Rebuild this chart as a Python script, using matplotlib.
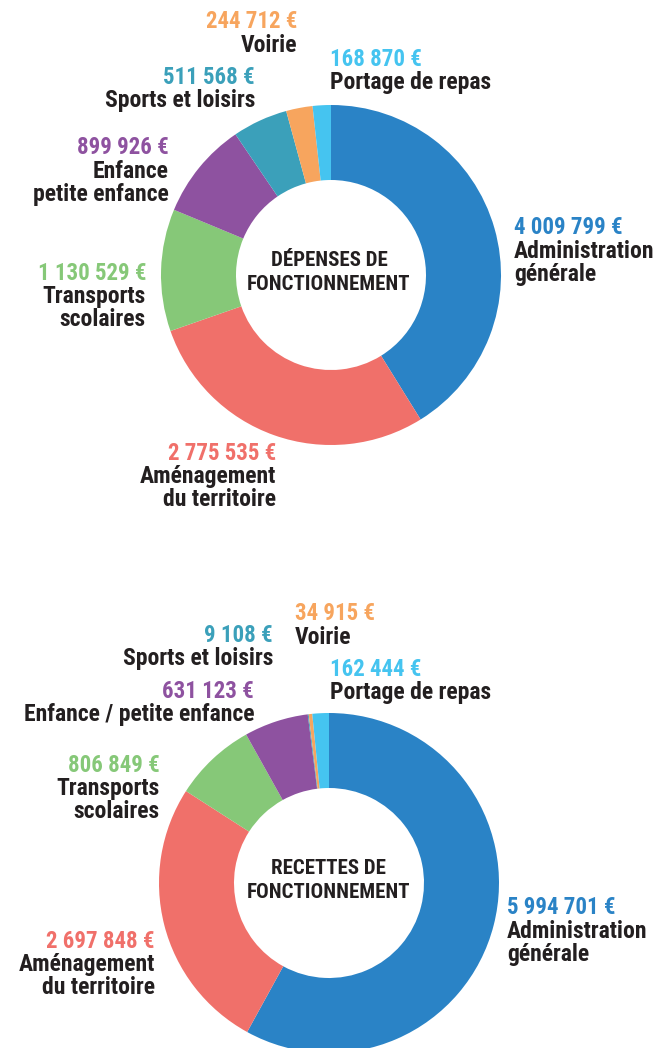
import matplotlib
matplotlib.use("Agg")
import matplotlib.pyplot as plt
from matplotlib import font_manager

categories = ["Administration générale", "Aménagement du territoire", "Transports scolaires",
              "Enfance / petite enfance", "Sports et loisirs", "Voirie", "Portage de repas"]
depenses = [4009799, 2775535, 1130529, 899926, 511568, 244712, 168870]
recettes = [5994701, 2697848, 806849, 631123, 9108, 34915, 162444]
depenses_labels = ["4 009 799 €", "2 775 535 €", "1 130 529 €", "899 926 €", "511 568 €", "244 712 €", "168 870 €"]
recettes_labels = ["5 994 701 €", "2 697 848 €", "806 849 €", "631 123 €", "9 108 €", "34 915 €", "162 444 €"]
depenses_names = ["Administration\ngénérale", "Aménagement\ndu territoire", "Transports\nscolaires",
                  "Enfance\npetite enfance", "Sports et loisirs", "Voirie", "Portage de repas"]
recettes_names = ["Administration\ngénérale", "Aménagement\ndu territoire", "Transports\nscolaires",
                  "Enfance / petite enfance", "Sports et loisirs", "Voirie", "Portage de repas"]
colors = ["#2a83c6", "#f0706a", "#86c878", "#8e52a0", "#3ba0ba", "#f7a55e", "#45c4f0"]
titles = ["DÉPENSES DE\nFONCTIONNEMENT", "RECETTES DE\nFONCTIONNEMENT"]

candidates = ["Roboto Condensed", "Fira Sans Condensed", "PT Sans Narrow", "Archivo Narrow",
              "Barlow Condensed", "IBM Plex Sans Condensed", "Sofia Sans Condensed",
              "Encode Sans Condensed", "Asap Condensed", "Saira Condensed", "Liberation Sans Narrow"]
bold_static = {}
for f in font_manager.fontManager.ttflist:
    if f.weight == 700 and "[" not in f.fname and "Italic" not in f.fname and f.style == "normal":
        bold_static.setdefault(f.name, f.fname)
FAM = ["DejaVu Sans"]
for c in candidates:
    if c in bold_static:
        FAM = [c, "DejaVu Sans"]
        break
DARK = "#231f20"

W, H = 656, 1048
fig = plt.figure(figsize=(W / 100, H / 100), dpi=100)
ax = fig.add_axes([0, 0, 1, 1])

def Y(py):
    return H - py

R = 170
width = 75
ax.pie(depenses, colors=colors, startangle=90, counterclock=False, center=(331, Y(275)),
       radius=R, wedgeprops=dict(width=width, linewidth=0), frame=True)
ax.pie(recettes, colors=colors, startangle=90, counterclock=False, center=(329, Y(883)),
       radius=R, wedgeprops=dict(width=width, linewidth=0), frame=True)
ax.set_xlim(0, W)
ax.set_ylim(0, H)
ax.set_aspect("equal")
ax.axis("off")

FS_NUM = 16.5
FS_NAME = 17

def label(x, y_num, idx, vals_lbl, names_lbl, ha):
    ax.text(x, Y(y_num), vals_lbl[idx], color=colors[idx], ha=ha, va="center",
            fontsize=FS_NUM, fontweight="bold", family=FAM)
    lines = names_lbl[idx].split("\n")
    for k, ln in enumerate(lines):
        ax.text(x, Y(y_num + 24 + 23 * k), ln, color=DARK, ha=ha, va="center",
                fontsize=FS_NAME, fontweight="bold", family=FAM)

# top donut labels
label(297, 22, 5, depenses_labels, depenses_names, "right")
label(330, 59, 6, depenses_labels, depenses_names, "left")
label(255, 77, 4, depenses_labels, depenses_names, "right")
label(169, 147, 3, depenses_labels, depenses_names, "right")
label(146, 273, 2, depenses_labels, depenses_names, "right")
label(514, 228, 0, depenses_labels, depenses_names, "left")
label(276, 453, 1, depenses_labels, depenses_names, "right")

# bottom donut labels
label(295, 613, 5, recettes_labels, recettes_names, "left")
label(273, 635, 4, recettes_labels, recettes_names, "right")
label(330, 669, 6, recettes_labels, recettes_names, "left")
label(254, 691, 3, recettes_labels, recettes_names, "right")
label(160, 765, 2, recettes_labels, recettes_names, "right")
label(507, 907, 0, recettes_labels, recettes_names, "left")
label(155, 941, 1, recettes_labels, recettes_names, "right")

# center titles
for (cx, cy), t in zip([(329, 260), (328, 868)], titles):
    l1, l2 = t.split("\n")
    ax.text(cx, Y(cy), l1, color=DARK, ha="center", va="center", fontsize=15, fontweight="bold", family=FAM)
    ax.text(cx, Y(cy + 24), l2, color=DARK, ha="center", va="center", fontsize=15, fontweight="bold", family=FAM)

fig.savefig("out.png", dpi=100)
